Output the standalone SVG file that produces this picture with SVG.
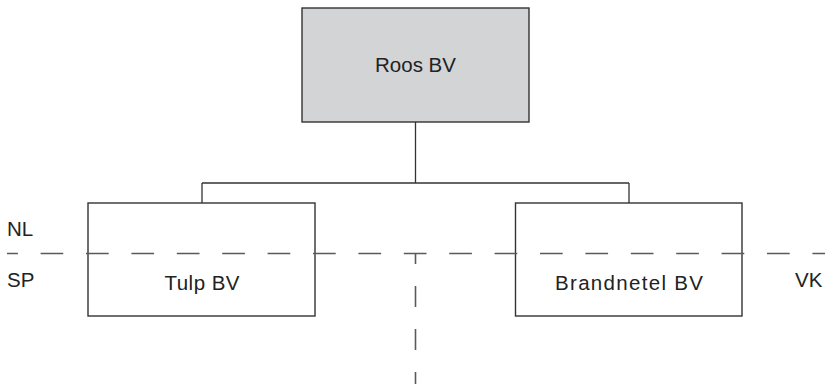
<svg xmlns="http://www.w3.org/2000/svg" width="825" height="384" viewBox="0 0 825 384">
  <style>
    .box { fill: #ffffff; stroke: #333333; stroke-width: 1.4; }
    .grey { fill: #d3d4d6; }
    .conn { fill: none; stroke: #333333; stroke-width: 1.3; }
    .dash { fill: none; stroke: #5a5a5a; stroke-width: 1.6; }
    text { font-family: "Liberation Sans", Arial, sans-serif; font-size: 20.5px; fill: #222222; }
    .lbl { text-anchor: middle; }
  </style>
  <rect width="825" height="384" fill="#ffffff"/>
  <g id="connectors">
    <path class="conn" d="M415.5 122 V183 M202 183 H629 M202 183 V203 M629 183 V203"/>
  </g>
  <g id="roos">
    <rect class="box grey" x="302" y="8" width="227" height="114"/>
    <text class="lbl" x="415.5" y="72">Roos BV</text>
  </g>
  <g id="tulp">
    <rect class="box" x="88" y="203" width="227" height="113"/>
    <text class="lbl" x="202" y="290" textLength="75" lengthAdjust="spacing">Tulp BV</text>
  </g>
  <g id="brandnetel">
    <rect class="box" x="515.5" y="203" width="226.5" height="113"/>
    <text class="lbl" x="629" y="290" textLength="148" lengthAdjust="spacing">Brandnetel BV</text>
  </g>
  <g id="borders">
    <path class="dash" d="M7 253.5 H825" stroke-dasharray="22.7 22.7" stroke-dashoffset="11.8"/>
    <path class="dash" d="M415.5 254 V384" stroke-dasharray="21 22" stroke-dashoffset="11"/>
  </g>
  <g id="labels">
    <text x="7" y="236">NL</text>
    <text x="7" y="287">SP</text>
    <text x="795" y="287">VK</text>
  </g>
</svg>
